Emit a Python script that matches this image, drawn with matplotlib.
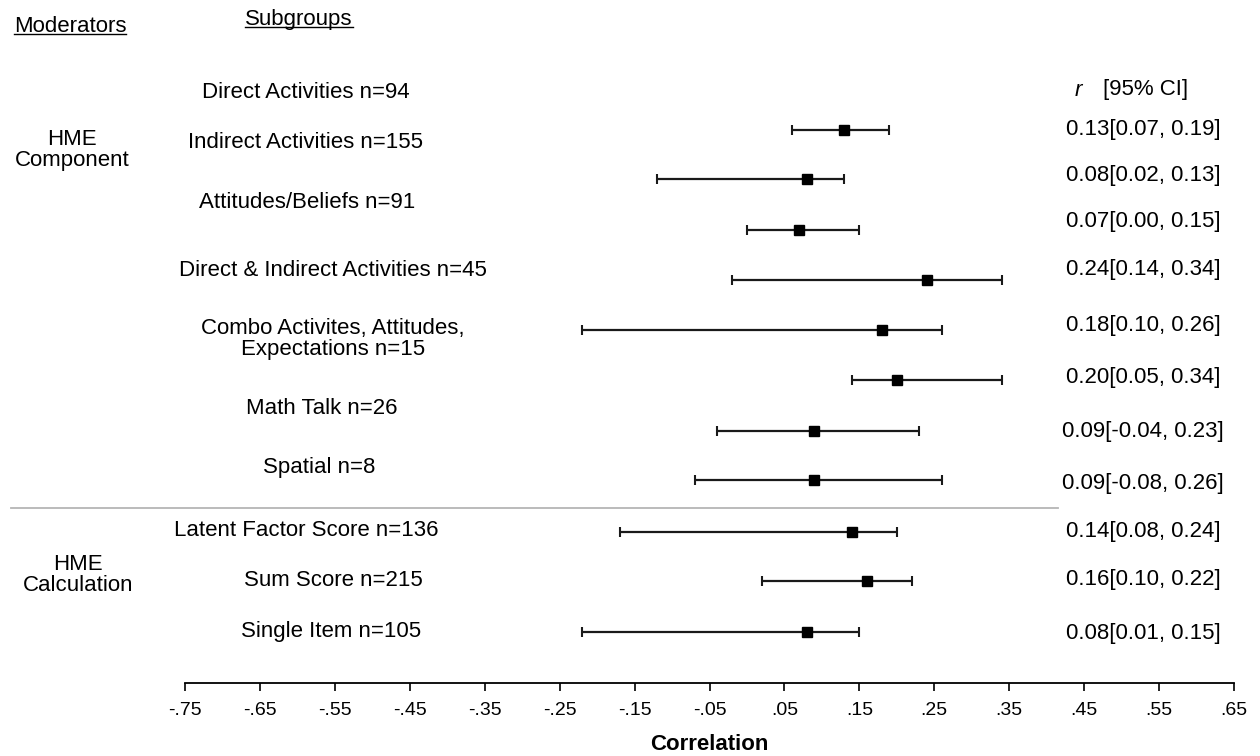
import matplotlib.pyplot as plt
import matplotlib.transforms as mtransforms
import numpy as np

plt.rcParams['font.family'] = ['Liberation Sans', 'DejaVu Sans']

# values
r_est = [0.13, 0.08, 0.07, 0.24, 0.18, 0.20, 0.09, 0.09, 0.14, 0.16, 0.08]
ci_lo = [0.06, -0.12, 0.00, -0.02, -0.22, 0.14, -0.04, -0.07, -0.17, 0.02, -0.22]
ci_hi = [0.19, 0.13, 0.15, 0.34, 0.26, 0.34, 0.23, 0.26, 0.20, 0.22, 0.15]

# text column on the right
ci_text = ["0.13[0.07, 0.19]", "0.08[0.02, 0.13]", "0.07[0.00, 0.15]",
           "0.24[0.14, 0.34]", "0.18[0.10, 0.26]", "0.20[0.05, 0.34]",
           "0.09[-0.04, 0.23]", "0.09[-0.08, 0.26]", "0.14[0.08, 0.24]",
           "0.16[0.10, 0.22]", "0.08[0.01, 0.15]"]

subgroups = ["Direct Activities n=94", "Indirect Activities n=155",
             "Attitudes/Beliefs n=91", "Direct & Indirect Activities n=45",
             "Combo Activites, Attitudes,\nExpectations n=15", "Math Talk n=26",
             "Spatial n=8", "Latent Factor Score n=136", "Sum Score n=215",
             "Single Item n=105"]

ticks = [-0.75, -0.65, -0.55, -0.45, -0.35, -0.25, -0.15, -0.05,
         0.05, 0.15, 0.25, 0.35, 0.45, 0.55, 0.65]
tick_labels = ["-.75", "-.65", "-.55", "-.45", "-.35", "-.25", "-.15", "-.05",
               ".05", ".15", ".25", ".35", ".45", ".55", ".65"]

# layout (pixels from the top of the figure)
W, H = 1260, 756
axis_y = 683
row_y = [130, 179, 230, 280, 330, 380, 431, 480, 532, 581, 632]
text_y = [130, 176, 221, 270, 326, 378, 432, 483, 532, 580, 633]
label_y = [92, 142, 202, 270, 339, 408, 467, 530, 580, 632]
label_x = [306, 306, 307, 333, 333, 322, 319, 306, 333, 331]

fig = plt.figure(figsize=(12.6, 7.56), dpi=100)
ax = fig.add_axes([185 / W, (H - axis_y) / H, (1234 - 185) / W, axis_y / H])
ax.set_xlim(-0.75, 0.65)
ax.set_ylim(axis_y, 0)

r = np.array(r_est)
ax.errorbar(r, row_y, xerr=[r - np.array(ci_lo), np.array(ci_hi) - r],
            fmt='s', color='black', ecolor='#1a1a1a', markersize=7,
            elinewidth=1.6, capsize=3.8, capthick=1.5, clip_on=False)

for s in ['left', 'right', 'top']:
    ax.spines[s].set_visible(False)
ax.spines['bottom'].set_linewidth(1.3)
ax.set_yticks([])
ax.set_xticks(ticks)
ax.set_xticklabels(tick_labels, fontsize=14)
ax.tick_params(axis='x', length=6, width=1.2, pad=8)

fig.text(709.5 / W, 1 - 745 / H, "Correlation", ha='center', va='center',
         fontsize=16, fontweight='bold')

tr = mtransforms.blended_transform_factory(fig.transFigure, ax.transData)

for lab, x, y in zip(subgroups, label_x, label_y):
    ax.text(x / W, y, lab, transform=tr, ha='center', va='center',
            fontsize=16, linespacing=1.0)

for t, y in zip(ci_text, text_y):
    ax.text(1143 / W, y, t, transform=tr, ha='center', va='center', fontsize=16)

ax.text(1078 / W, 90, "r", transform=tr, ha='center', va='center',
        fontsize=16, style='italic')
ax.text(1103 / W, 90, "[95% CI]", transform=tr, ha='left', va='center', fontsize=16)

ax.text(72 / W, 150, "HME\nComponent", transform=tr, ha='center', va='center',
        fontsize=16, linespacing=1.0)
ax.text(78 / W, 575, "HME\nCalculation", transform=tr, ha='center', va='center',
        fontsize=16, linespacing=1.0)

# separator between the two moderators
ax.plot([11 / W, 1058 / W], [508, 508], transform=tr, color='#b5b5b5',
        linewidth=1.3, clip_on=False)

# underlined column headers
heads = [ax.text(70 / W, 27, "Moderators", transform=tr, ha='center', va='center', fontsize=16),
         ax.text(299 / W, 20, "Subgroups", transform=tr, ha='center', va='center', fontsize=16)]
fig.canvas.draw()
inv = fig.transFigure.inverted()
for h in heads:
    bb = h.get_window_extent().transformed(inv)
    yy = bb.y0 + 3.5 / H
    fig.add_artist(plt.Line2D([bb.x0, bb.x1], [yy, yy], color='black',
                              linewidth=1.0, transform=fig.transFigure))

fig.savefig("out.png", dpi=100)
